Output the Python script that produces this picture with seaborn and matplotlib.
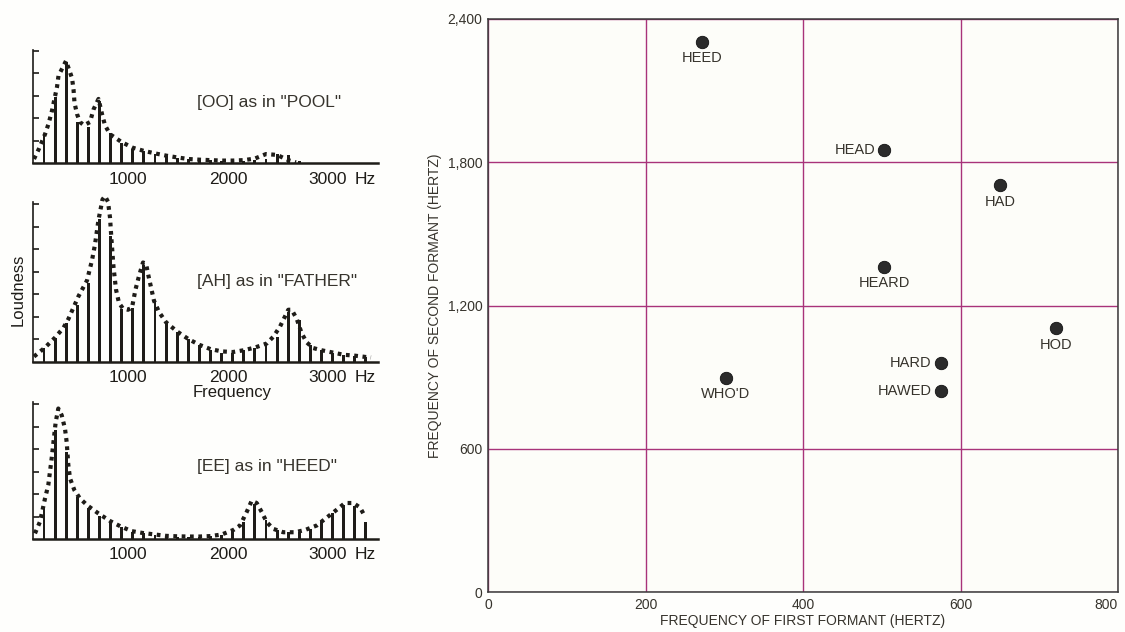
import matplotlib
matplotlib.use("Agg")
import matplotlib.pyplot as plt
import seaborn as sns

# harmonic positions shared by the three spectra (Hz)
HARMONIC_HZ = [160, 271, 382, 493, 604, 715, 826, 937, 1048, 1159,
               1270, 1381, 1492, 1603, 1714, 1825, 1936, 2047, 2158, 2269,
               2380, 2491, 2602, 2713, 2824, 2935, 3046, 3157, 3268, 3379]

# harmonic loudness (arbitrary units, one unit per tick)
OO_LEVEL = [1.28, 2.94, 4.49, 1.84, 1.62, 2.79, 1.37, 0.93, 0.66, 0.54,
            0.44, 0.34, 0.25, 0.18, 0.15, 0.15, 0.13, 0.12, 0.12, 0.15,
            0.22, 0.40, 0.36, 0.12, 0.0, 0.0, 0.0, 0.0, 0.0, 0.0]
AH_LEVEL = [0.62, 1.03, 1.70, 2.51, 3.47, 6.34, 5.60, 2.33, 2.39, 4.31,
            2.68, 1.74, 1.33, 1.00, 0.74, 0.51, 0.40, 0.40, 0.49, 0.59,
            0.74, 1.10, 2.20, 1.84, 0.75, 0.51, 0.40, 0.29, 0.25, 0.19]
EE_LEVEL = [1.44, 4.84, 3.85, 1.88, 1.39, 1.04, 0.77, 0.55, 0.33, 0.25,
            0.18, 0.12, 0.10, 0.10, 0.10, 0.12, 0.20, 0.37, 0.75, 1.55,
            0.85, 0.40, 0.30, 0.30, 0.45, 0.80, 1.15, 1.50, 1.45, 0.74]

# dashed spectral envelopes
OO_ENV_HZ = [60, 110, 170, 205, 240, 290, 305, 380, 440, 455, 465, 490, 520, 560,
             620, 655, 705, 740, 770, 820, 937, 1048, 1159, 1270, 1381, 1492, 1603,
             1714, 1825, 1936, 2047, 2158, 2269, 2380, 2491, 2602, 2680]
OO_ENV_LEVEL = [0.2, 0.66, 1.3, 1.76, 2.35, 3.4, 3.9, 4.56, 3.8, 3.3, 2.7, 2.2, 1.84, 1.7,
                1.84, 2.4, 2.87, 2.2, 1.7, 1.3, 0.95, 0.7, 0.56, 0.45, 0.35, 0.27, 0.2,
                0.17, 0.15, 0.13, 0.13, 0.15, 0.22, 0.42, 0.38, 0.15, 0.05]
AH_ENV_HZ = [60, 170, 270, 355, 405, 505, 590, 640, 670, 705, 745, 770, 800, 820, 835,
             855, 880, 910, 950, 1000, 1040, 1075, 1110, 1150, 1180, 1205, 1235, 1260,
             1310, 1381, 1492, 1603, 1714, 1825, 1936, 2047, 2158, 2269, 2387, 2453,
             2520, 2603, 2637, 2687, 2737, 2787, 2850, 2935, 3046, 3157, 3268, 3379, 3430]
AH_ENV_LEVEL = [0.22, 0.62, 1.06, 1.5, 1.9, 2.9, 3.6, 4.5, 5.2, 6.3, 7.2, 7.35, 7.1, 6.4,
                5.4, 4.2, 3.2, 2.6, 2.35, 2.3, 2.4, 3.2, 3.8, 4.4, 4.35, 3.8, 3.2, 2.7,
                2.2, 1.74, 1.33, 1.0, 0.74, 0.55, 0.45, 0.42, 0.5, 0.62, 0.8, 1.1,
                1.55, 2.3, 2.3, 1.9, 1.25, 0.85, 0.6, 0.5, 0.4, 0.3, 0.26, 0.2, 0.18]
EE_ENV_HZ = [70, 120, 170, 203, 237, 277, 303, 337, 370, 387, 403, 420, 463, 520, 597,
             703, 820, 930, 1037, 1143, 1270, 1381, 1492, 1603, 1714, 1825, 1936, 2053,
             2120, 2187, 2237, 2287, 2337, 2387, 2453, 2553, 2670, 2770, 2887, 2987,
             3087, 3170, 3253, 3320, 3370]
EE_ENV_LEVEL = [0.25, 0.77, 1.8, 2.4, 3.6, 5.2, 5.8, 5.5, 4.9, 4.3, 3.3, 2.7, 2.18, 1.8,
                1.48, 1.14, 0.8, 0.55, 0.35, 0.27, 0.2, 0.14, 0.12, 0.11, 0.11, 0.13,
                0.2, 0.4, 0.6, 1.2, 1.7, 1.6, 1.2, 0.75, 0.45, 0.3, 0.3, 0.4, 0.6, 0.95,
                1.3, 1.6, 1.6, 1.4, 1.0]

SPECTRUM_TITLES = ['[OO] as in "POOL"', '[AH] as in "FATHER"', '[EE] as in "HEED"']
FREQ_TICKS = [1000, 2000, 3000]

# formant chart
VOWELS = ["HEED", "HEAD", "HAD", "HEARD", "HOD", "HARD", "HAWED", "WHO'D"]
F1_HZ = [272, 503, 650, 503, 721, 575, 575, 302]
F2_HZ = [2305, 1851, 1705, 1362, 1104, 960, 842, 898]
F1_TICKS = [0, 200, 400, 600, 800]
F2_TICKS = [0, 600, 1200, 1800, 2400]
F2_TICK_LABELS = ["0", "600", "1,200", "1,800", "2,400"]
LABEL_LEFT = {"HEAD", "HARD", "HAWED"}

W, H = 1125, 632
sns.set_theme(style="white")
plt.rcParams["font.family"] = ["Liberation Sans", "DejaVu Sans"]

fig = plt.figure(figsize=(W / 100, H / 100), dpi=100)
fig.patch.set_facecolor("#fefefc")

INK = "#1e1c18"
TEXT = "#36332c"
PX_PER_UNIT = 22.5


def px_axes(left, top, right, bottom):
    return fig.add_axes([left / W, 1 - bottom / H, (right - left) / W, (bottom - top) / H])


# ---- left: three harmonic spectra ----
panels = [
    (OO_LEVEL, OO_ENV_HZ, OO_ENV_LEVEL, 163.5, 5.1, 5.05, 5, 102),
    (AH_LEVEL, AH_ENV_HZ, AH_ENV_LEVEL, 361.5, 7.5, 7.1, 7, 282),
    (EE_LEVEL, EE_ENV_HZ, EE_ENV_LEVEL, 539.0, 6.15, 6.1, 6, 467),
]
for i, (lev, env_f, env_l, base, ytop, spine_top, nticks, ty) in enumerate(panels):
    ax = px_axes(33, base - ytop * PX_PER_UNIT, 378, base)
    ax.set_facecolor("none")
    sns.barplot(x=HARMONIC_HZ, y=lev, native_scale=True, width=0.26, color=INK,
                edgecolor=INK, linewidth=0, saturation=1, errorbar=None, ax=ax)
    sns.lineplot(x=env_f, y=env_l, ax=ax, color=INK, lw=3.0, sort=False,
                 linestyle=(0, (0.9, 1.1)), dash_capstyle="butt", zorder=4)
    ax.set_xlim(50, 3500)
    ax.set_ylim(0, ytop)
    for s in ("top", "right"):
        ax.spines[s].set_visible(False)
    ax.spines["left"].set_bounds(0, spine_top)
    ax.spines["left"].set_color(INK)
    ax.spines["left"].set_linewidth(1.2)
    ax.spines["bottom"].set_color(INK)
    ax.spines["bottom"].set_linewidth(1.8)
    ax.set_yticks(range(1, nticks + 1))
    ax.set_yticklabels([])
    ax.set_xticks(FREQ_TICKS)
    ax.set_xticklabels([str(t) for t in FREQ_TICKS])
    ax.tick_params(axis="y", direction="in", length=4, width=1.2, color=INK, left=True)
    ax.tick_params(axis="x", direction="in", length=0, pad=6, labelsize=12.5, labelcolor=INK)
    ax.set_xlabel("")
    ax.set_ylabel("")
    ax.annotate("Hz", xy=(3270, 0), xycoords=("data", "axes fraction"), xytext=(0, -6),
                textcoords="offset points", ha="left", va="top", fontsize=12.5, color=INK)
    fig.text(197 / W, 1 - ty / H, SPECTRUM_TITLES[i], ha="left", va="center",
             fontsize=12.5, color=TEXT)

fig.text(18 / W, 1 - 290 / H, "Loudness", rotation=90, ha="center", va="center",
         fontsize=12, color=INK)
fig.text(232 / W, 1 - 393 / H, "Frequency", ha="center", va="center",
         fontsize=12, color=INK)

# ---- right: formant chart ----
ax = px_axes(488, 19, 1118, 592)
ax.set_facecolor("#fdfdf9")
sns.scatterplot(x=F1_HZ, y=F2_HZ, ax=ax, s=80, color="#2b2b2b", edgecolor="#111111",
                linewidth=0.6, zorder=3)
ax.set_xlim(F1_TICKS[0], F1_TICKS[-1])
ax.set_ylim(F2_TICKS[0], F2_TICKS[-1])
ax.set_xticks(F1_TICKS)
ax.set_yticks(F2_TICKS)
ax.set_yticklabels(F2_TICK_LABELS)
ax.get_xticklabels()[-1].set_horizontalalignment("right")
ax.grid(True, color="#a8337a", lw=1.0)
ax.set_axisbelow(True)
for s in ax.spines.values():
    s.set_visible(True)
    s.set_color("#3a3a3a")
    s.set_linewidth(1.1)
ax.tick_params(length=0, pad=4, labelsize=10, labelcolor=TEXT)
ax.set_xlabel("FREQUENCY OF FIRST FORMANT (HERTZ)", fontsize=10, color=TEXT, labelpad=2)
ax.set_ylabel("FREQUENCY OF SECOND FORMANT (HERTZ)", fontsize=10, color=TEXT, labelpad=4)

for name, x, y in zip(VOWELS, F1_HZ, F2_HZ):
    if name in LABEL_LEFT:
        ax.annotate(name, (x, y), xytext=(-6.5, 0), textcoords="offset points",
                    ha="right", va="center", fontsize=10.5, color=TEXT)
    else:
        ax.annotate(name, (x, y), xytext=(0, -12), textcoords="offset points",
                    ha="center", va="center", fontsize=10.5, color=TEXT)

fig.savefig("out.png", dpi=100, facecolor=fig.get_facecolor())
